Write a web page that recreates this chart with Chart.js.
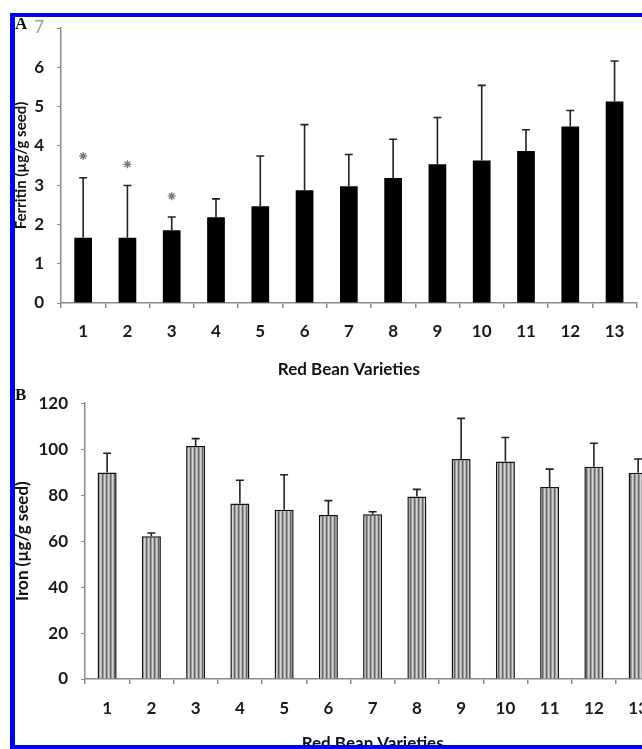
<!DOCTYPE html>
<html>
<head>
<meta charset="utf-8">
<script src="https://cdn.jsdelivr.net/npm/chart.js@4.4.1/dist/chart.umd.min.js"></script>
<style>
  html, body { margin: 0; padding: 0; background: #fff; }
  #page { position: relative; width: 642px; height: 749px; overflow: hidden; background: #fff; }
  #chartA { position: absolute; left: 0; top: 0; }
  #chartB { position: absolute; left: 0; top: 380px; }
  #frame {
    position: absolute; left: 10px; top: 13px; width: 700px; height: 736px;
    box-sizing: border-box; border-style: solid; border-color: #0000f5;
    border-width: 4px 0 4px 5px; z-index: 2;
  }
  .panel {
    position: absolute; z-index: 3; font-family: "Liberation Serif", serif;
    font-weight: bold; font-size: 17px; line-height: 17px; color: #111;
  }
</style>
</head>
<body>
<div id="page">
  <canvas id="chartA" width="642" height="380"></canvas>
  <canvas id="chartB" width="662" height="380"></canvas>
  <div id="frame"></div>
  <div class="panel" style="left:15px; top:15px;">A</div>
  <div class="panel" style="left:15px; top:386px;">B</div>
</div>
<script>
// data
const varieties = ["1", "2", "3", "4", "5", "6", "7", "8", "9", "10", "11", "12", "13"];
const ferritinMean = [1.66, 1.66, 1.85, 2.18, 2.46, 2.87, 2.97, 3.18, 3.53, 3.63, 3.87, 4.49, 5.13];
const ferritinSD = [1.53, 1.33, 0.34, 0.47, 1.28, 1.67, 0.81, 0.99, 1.19, 1.91, 0.54, 0.41, 1.03];
const ferritinStars = [3.74, 3.53, 2.72, null, null, null, null, null, null, null, null, null, null];
const ironMean = [89.9, 62.1, 101.4, 76.4, 73.6, 71.4, 71.7, 79.4, 95.7, 94.6, 83.5, 92.3, 89.7];
const ironSD = [8.3, 1.4, 3.2, 10.1, 15.3, 6.2, 1.1, 3.1, 17.7, 10.5, 7.8, 10.3, 6.0];

const axisGray = "#8a8a8a";
const labelFont = { family: "Lato", weight: "bold", size: 17 };

// error bars, only upward with a cap
const errorBarPlugin = {
  id: "errorBars",
  afterDatasetsDraw(chart, args, opts) {
    const meta = chart.getDatasetMeta(0);
    const yScale = chart.scales.y;
    const means = chart.data.datasets[0].data;
    const ctx = chart.ctx;
    ctx.save();
    ctx.strokeStyle = "#222";
    ctx.lineWidth = 1.6;
    meta.data.forEach((bar, i) => {
      const top = yScale.getPixelForValue(means[i] + opts.sd[i]);
      ctx.beginPath();
      ctx.moveTo(bar.x, bar.y);
      ctx.lineTo(bar.x, top);
      ctx.moveTo(bar.x - 4, top);
      ctx.lineTo(bar.x + 4, top);
      ctx.stroke();
    });
    ctx.restore();
  }
};

// striped fill for panel B
function stripePattern() {
  const c = document.createElement("canvas");
  c.width = 4;
  c.height = 4;
  const g = c.getContext("2d");
  const cols = ["#d2d2d2", "#b4b4b4", "#666666", "#989898"];
  cols.forEach((col, i) => {
    g.fillStyle = col;
    g.fillRect(i, 0, 1, 4);
  });
  return g.createPattern(c, "repeat");
}

function xScale(height, tickPad, titleBottom) {
  return {
    offset: true,
    grid: { display: true, offset: true, drawOnChartArea: false, drawTicks: true, tickLength: 5, color: axisGray, lineWidth: 1.5 },
    border: { display: true, color: axisGray, width: 1.5 },
    ticks: { color: "#1a1a1a", font: labelFont, padding: tickPad, maxRotation: 0, autoSkip: false },
    title: {
      display: true, text: "Red Bean Varieties", color: "#111",
      font: { family: "Lato", weight: "bold", size: 17 },
      padding: { top: 0, bottom: titleBottom }
    },
    afterFit: (s) => { s.height = height; }
  };
}

function yScale(max, step, width, title, titleSize, titleLeft) {
  return {
    min: 0,
    max: max,
    grid: { display: true, drawOnChartArea: false, drawTicks: true, tickLength: 4, color: axisGray, lineWidth: 1 },
    border: { display: true, color: axisGray, width: 1.5 },
    ticks: {
      stepSize: step,
      padding: 13,
      color: (c) => (c.tick && c.tick.value === 7 ? "#999" : "#1a1a1a"),
      font: (c) => (c.tick && c.tick.value === 7
        ? { family: "Lato", weight: "normal", size: 17 }
        : labelFont)
    },
    title: {
      display: true, text: title, color: "#111",
      font: { family: "Lato", weight: "bold", size: titleSize },
      padding: { top: titleLeft, bottom: 0 }
    },
    afterFit: (s) => { s.width = width; }
  };
}

// Panel A: ferritin
new Chart(document.querySelector("#chartA"), {
  type: "bar",
  data: {
    labels: varieties,
    datasets: [
      {
        label: "Ferritin",
        data: ferritinMean,
        backgroundColor: "#000",
        borderWidth: 0,
        categoryPercentage: 1,
        barPercentage: 0.4,
        order: 2
      },
      {
        type: "line",
        label: "significant",
        data: ferritinStars,
        showLine: false,
        pointStyle: "star",
        pointRadius: 4,
        borderColor: "#777",
        borderWidth: 1.3,
        order: 1
      }
    ]
  },
  options: {
    responsive: false,
    animation: false,
    layout: { padding: { top: 28, left: 0, right: 0, bottom: 0 } },
    plugins: {
      legend: { display: false },
      tooltip: { enabled: false },
      errorBars: { sd: ferritinSD }
    },
    scales: {
      x: xScale(77, 13, 0.5),
      y: yScale(7, 1, 61, "Ferritin (µg/g seed)", 15, 12)
    }
  },
  plugins: [errorBarPlugin]
});

// Panel B: iron
new Chart(document.querySelector("#chartB"), {
  type: "bar",
  data: {
    labels: varieties,
    datasets: [
      {
        label: "Iron",
        data: ironMean,
        backgroundColor: stripePattern(),
        borderColor: "#111",
        borderWidth: 1.5,
        categoryPercentage: 1,
        barPercentage: 0.43
      }
    ]
  },
  options: {
    responsive: false,
    animation: false,
    layout: { padding: { top: 18, left: 0, right: 0, bottom: 0 } },
    plugins: {
      legend: { display: false },
      tooltip: { enabled: false },
      errorBars: { sd: ironSD }
    },
    scales: {
      x: xScale(81, 14, 6.3),
      y: yScale(120, 20, 85, "Iron (µg/g seed)", 17, 12.8)
    }
  },
  plugins: [errorBarPlugin]
});
</script>
</body>
</html>
